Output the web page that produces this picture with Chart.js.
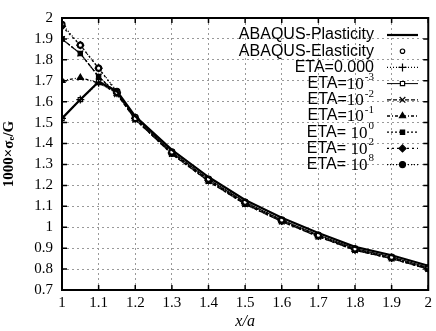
<!DOCTYPE html>
<html>
<head>
<meta charset="utf-8">
<script src="https://cdn.jsdelivr.net/npm/chart.js@4.4.0/dist/chart.umd.min.js"></script>
<style>
  html, body { margin: 0; padding: 0; background: #fff; }
  #wrap { width: 436px; height: 331px; }
</style>
</head>
<body>
<div id="wrap"><canvas id="chart" width="436" height="331"></canvas></div>
<script>
// x/a positions of the computed points
var xVals = [1, 1.05, 1.1, 1.15, 1.2, 1.3, 1.4, 1.5, 1.6, 1.7, 1.8, 1.9, 2];

// 1000*sigma_e/G
var abaqusPlasticity = [1.52, 1.61, 1.695, 1.65, 1.53, 1.37, 1.24, 1.13, 1.045, 0.972, 0.906, 0.866, 0.816];
var abaqusElasticity = [1.97, 1.87, 1.76, 1.645, 1.52, 1.36, 1.23, 1.12, 1.035, 0.962, 0.897, 0.857, 0.806];
var eta0     = [1.52, 1.61, 1.69, 1.64, 1.52, 1.355, 1.225, 1.115, 1.03, 0.958, 0.894, 0.853, 0.803];
var etaM3    = [1.52, 1.61, 1.695, 1.645, 1.525, 1.36, 1.23, 1.12, 1.035, 0.963, 0.898, 0.858, 0.808];
var etaM2    = [1.9, 1.83, 1.72, 1.635, 1.515, 1.35, 1.22, 1.11, 1.027, 0.955, 0.89, 0.85, 0.8];
var etaM1    = [1.7, 1.715, 1.69, 1.64, 1.52, 1.355, 1.225, 1.115, 1.03, 0.958, 0.893, 0.853, 0.803];
var etaP0    = [1.9, 1.83, 1.72, 1.64, 1.515, 1.35, 1.22, 1.11, 1.027, 0.955, 0.89, 0.85, 0.8];
var etaP2    = [1.96, 1.87, 1.76, 1.645, 1.52, 1.355, 1.225, 1.115, 1.03, 0.958, 0.893, 0.853, 0.803];
var etaP8    = [1.97, 1.87, 1.76, 1.65, 1.525, 1.36, 1.23, 1.12, 1.035, 0.962, 0.897, 0.857, 0.806];

var legendNames = ['ABAQUS-Plasticity', 'ABAQUS-Elasticity', 'ETA=0.000', 'ETA=10', 'ETA=10', 'ETA=10', 'ETA= 10', 'ETA= 10', 'ETA= 10'];
var legendExp = ['', '', '', '-3', '-2', '-1', '0', '2', '8'];

function pts(ys) {
  return xVals.map(function (x, i) { return { x: x, y: ys[i] }; });
}

function series(ys, style) {
  var ds = {
    data: pts(ys),
    borderColor: '#000',
    backgroundColor: style.open ? '#fff' : '#000',
    pointBorderColor: '#000',
    pointBackgroundColor: style.open ? '#fff' : '#000',
    borderWidth: style.width || 1.3,
    borderDash: style.dash || [],
    pointStyle: style.point || false,
    pointRadius: style.point ? (style.r || 3) : 0,
    pointBorderWidth: 1.2,
    showLine: style.line !== false,
    tension: 0
  };
  return ds;
}

var styles = [
  { width: 2.2 },
  { line: false, point: 'circle', open: true, r: 2.2 },
  { dash: [1, 2], point: 'cross', r: 4 },
  { width: 1, point: 'rect', open: true, r: 3 },
  { dash: [4, 2], point: 'crossRot', r: 4 },
  { dash: [3, 2, 1, 2], point: 'triangle', r: 3.5 },
  { dash: [2, 2], point: 'rect', r: 3 },
  { dash: [2, 3], point: 'rectRot', r: 3.5 },
  { dash: [1, 2], point: 'circle', r: 3 }
];

var allSeries = [abaqusPlasticity, abaqusElasticity, eta0, etaM3, etaM2, etaM1, etaP0, etaP2, etaP8];
var datasets = allSeries.map(function (ys, i) { return series(ys, styles[i]); });

function fmt(v) {
  return parseFloat(Number(v).toFixed(1)).toString();
}

// frame and inward ticks on all four sides
var framePlugin = {
  id: 'frame',
  afterDraw: function (chart) {
    var ctx = chart.ctx, a = chart.chartArea;
    var xs = chart.scales.x, ys = chart.scales.y;
    ctx.save();
    ctx.strokeStyle = '#000';
    ctx.lineWidth = 1.5;
    ctx.beginPath();
    xs.ticks.forEach(function (t) {
      var px = xs.getPixelForValue(t.value);
      ctx.moveTo(px, a.bottom); ctx.lineTo(px, a.bottom - 5);
      ctx.moveTo(px, a.top); ctx.lineTo(px, a.top + 5);
    });
    ys.ticks.forEach(function (t) {
      var py = ys.getPixelForValue(t.value);
      ctx.moveTo(a.left, py); ctx.lineTo(a.left + 5, py);
      ctx.moveTo(a.right, py); ctx.lineTo(a.right - 5, py);
    });
    ctx.stroke();
    ctx.lineWidth = 2;
    ctx.strokeRect(a.left, a.top, a.right - a.left, a.bottom - a.top);
    ctx.restore();
  }
};

// gnuplot-style key: right-aligned label, then line sample with marker
var keyPlugin = {
  id: 'key',
  afterDraw: function (chart) {
    var ctx = chart.ctx;
    var textRight = 374, x1 = 387, x2 = 418, y0 = 35, step = 16.2;
    ctx.save();
    legendNames.forEach(function (name, i) {
      var y = y0 + i * step;
      var exp = legendExp[i];
      ctx.textBaseline = 'middle';
      ctx.fillStyle = '#000';
      ctx.font = '11px "Liberation Serif"';
      var expW = exp ? ctx.measureText(exp).width + 1 : 0;
      if (exp) {
        ctx.textAlign = 'right';
        ctx.fillText(exp, textRight, y - 6);
      }
      ctx.textAlign = 'right';
      var base = name.replace(/10$/, '');
      var tail = name === base ? '' : '10';
      var tailW = 0;
      if (tail) {
        ctx.font = '17px "Liberation Serif"';
        tailW = ctx.measureText(tail).width;
        ctx.fillText(tail, textRight - expW, y + 1);
      }
      ctx.font = '16px "Liberation Sans"';
      ctx.fillText(base, textRight - expW - tailW, y);

      var ds = chart.data.datasets[i];
      if (ds.showLine) {
        ctx.strokeStyle = '#000';
        ctx.lineWidth = ds.borderWidth;
        ctx.setLineDash(ds.borderDash);
        ctx.beginPath();
        ctx.moveTo(x1, y); ctx.lineTo(x2, y);
        ctx.stroke();
        ctx.setLineDash([]);
      }
      if (ds.pointStyle) {
        ctx.fillStyle = ds.pointBackgroundColor;
        ctx.strokeStyle = '#000';
        ctx.lineWidth = 1.2;
        Chart.helpers.drawPoint(ctx, {
          pointStyle: ds.pointStyle, radius: ds.pointRadius, rotation: 0, borderWidth: 1.2
        }, (x1 + x2) / 2, y);
      }
    });
    ctx.restore();
  }
};

var chart = new Chart(document.getElementById('chart').getContext('2d'), {
  type: 'scatter',
  data: { datasets: datasets },
  options: {
    responsive: false,
    animation: false,
    layout: { padding: { top: 15, right: 4, left: 0, bottom: 0 } },
    plugins: {
      legend: { display: false },
      tooltip: { enabled: false }
    },
    scales: {
      x: {
        type: 'linear',
        min: 1,
        max: 2,
        afterFit: function (s) { s.height = 41; },
        ticks: {
          stepSize: 0.1,
          autoSkip: false,
          maxRotation: 0,
          color: '#000',
          padding: 4,
          font: { family: '"Liberation Serif"', size: 15 },
          callback: function (v) { return fmt(v); }
        },
        grid: { color: '#999', drawTicks: false, lineWidth: 1 },
        border: { display: false, dash: [2, 3] },
        title: {
          display: true,
          text: 'x/a',
          color: '#000',
          padding: { top: 0, bottom: 0 },
          font: { family: '"Liberation Serif"', size: 16, style: 'italic' }
        }
      },
      y: {
        type: 'linear',
        min: 0.7,
        max: 2,
        afterFit: function (s) { s.width = 62; },
        ticks: {
          stepSize: 0.1,
          autoSkip: false,
          color: '#000',
          padding: 9,
          font: { family: '"Liberation Serif"', size: 15 },
          callback: function (v) { return fmt(v); }
        },
        grid: { color: '#999', drawTicks: false, lineWidth: 1 },
        border: { display: false, dash: [2, 3] },
        title: {
          display: true,
          text: '1000×σₑ/G',
          color: '#000',
          padding: { top: 0, bottom: 2 },
          font: { family: '"Liberation Serif"', size: 15, weight: 'bold' }
        }
      }
    }
  },
  plugins: [framePlugin, keyPlugin]
});
</script>
</body>
</html>
